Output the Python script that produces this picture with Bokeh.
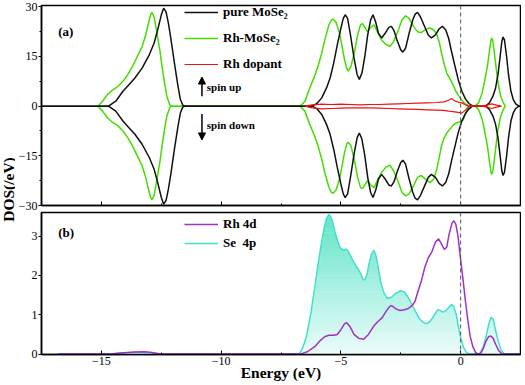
import numpy as np
from bokeh.plotting import figure
from bokeh.models import (Range1d, FixedTicker, Legend, LegendItem, Label, Arrow,
                          NormalHead, Span)
from bokeh.layouts import column, row
from bokeh.embed import file_html
from bokeh.resources import INLINE

FONT = "Liberation Serif"

# ---------------- panel (a) data: total DOS (spin up; spin down plotted negative) ----
e_pure = [-17.5, -14.7, -14.4, -14.1, -13.85, -13.6, -13.3, -13.0, -12.8, -12.65, -12.5, -12.4,
          -12.3, -12.2, -12.1, -11.95, -11.8, -11.7, -11.6, -11.5,
          -6.2, -6.0, -5.8, -5.6, -5.45, -5.3, -5.15, -5.0, -4.9, -4.82, -4.72, -4.6, -4.45,
          -4.32, -4.23, -4.12, -4.0, -3.88, -3.76, -3.66, -3.55, -3.43, -3.3, -3.15, -3.0,
          -2.89, -2.78, -2.65, -2.5, -2.41, -2.3, -2.15, -2.0, -1.9, -1.8, -1.68, -1.5, -1.35,
          -1.22, -1.05, -0.9, -0.76, -0.62, -0.5, -0.38, -0.25, -0.1, 0.05, 0.2, 0.35, 0.5,
          1.05, 1.2, 1.35, 1.46, 1.56, 1.65, 1.72, 1.77, 1.83, 1.92, 2.0, 2.1, 2.2, 2.3, 2.43, 2.5]
dos_pure = [0, 0, 1.5, 4.5, 6.5, 8.5, 11.5, 15.5, 19, 23, 27.5, 29.6,
            28.5, 25, 20.5, 13, 6, 2, 0.3, 0,
            0, 0.8, 2.5, 5.5, 8.5, 13, 18.5, 23.5, 26.5, 27.6, 26.5, 21.5, 14.5,
            9.5, 8.1, 10, 15, 21.5, 26, 27.6, 25.5, 22, 20.6, 22, 23.8,
            24.1, 22.8, 19.8, 17, 16.3, 17.5, 22, 26, 27.8, 28.3, 27, 24, 21.5,
            20.6, 21.5, 23.3, 24.1, 23, 20.5, 16.5, 12.5, 8, 4.5, 2.2, 0.8, 0,
            0, 1, 3, 5.5, 9.5, 15, 19.5, 20.9, 20, 15, 9.5, 4.5, 2, 0.7, 0, 0]

e_rh = [-15.15, -14.95, -14.75, -14.55, -14.33, -14.1, -13.9, -13.7, -13.5, -13.3, -13.15,
        -13.02, -12.95, -12.89, -12.8, -12.68, -12.55, -12.47, -12.35, -12.27, -12.15, -12.1,
        -6.7, -6.5, -6.3, -6.1, -5.95, -5.8, -5.67, -5.5, -5.4, -5.33, -5.2, -5.06, -4.95,
        -4.85, -4.75, -4.69, -4.58, -4.44, -4.3, -4.18, -4.1, -3.98, -3.89, -3.75, -3.62,
        -3.48, -3.3, -3.13, -2.95, -2.8, -2.6, -2.45, -2.3, -2.15, -1.97, -1.8, -1.65, -1.45,
        -1.28, -1.12, -1.0, -0.88, -0.8, -0.68, -0.58, -0.45, -0.32, -0.2, -0.05, 0.1, 0.25,
        0.37, 0.6, 0.75, 0.9, 1.0, 1.12, 1.2, 1.27, 1.3, 1.35, 1.46, 1.55, 1.67, 1.78, 1.87]
dos_rh_up = [0, 1.5, 3.5, 4.8, 5.8, 7.5, 9.5, 12, 15, 18, 21.5,
             25.5, 27.5, 28.3, 27, 22.1, 16.5, 12.1, 6.5, 3.1, 0.5, 0,
             0, 1.5, 5.5, 9, 12.1, 16, 20.1, 24.5, 26, 26.3, 25.3, 22.1, 18,
             14.1, 11.3, 10.6, 12, 16.1, 21.5, 24.6, 24.9, 23.6, 22.5, 23.8, 24.6,
             22.5, 20, 18.7, 18.1, 19.5, 23, 26, 27.3, 26.5, 24.1, 22.5, 22.2, 23.2,
             23.6, 23, 21.8, 19, 16.1, 12.5, 10, 8.3, 6.5, 4.5, 2.8, 1.3, 0.5,
             0, 0, 1, 4, 7.5, 12.1, 16.5, 20, 20.6, 19.5, 13, 7.5, 3.1, 1, 0]
dos_rh_dn = [0, 1.5, 3.5, 4.8, 5.8, 7.5, 9.5, 12, 15, 18, 21.5,
             25.5, 27.5, 28.3, 27, 22.1, 16.5, 12.1, 6.5, 3.1, 0.5, 0,
             0, 1.5, 5.5, 9, 12.1, 16, 20.1, 24.5, 26, 26.3, 25.3, 22.1, 18,
             14.1, 11.3, 10.9, 12, 16.1, 21.5, 24.6, 24.9, 23.6, 22.5, 23.8, 24.6,
             22.5, 20, 18.5, 17.8, 19.5, 23, 26, 27.1, 26.5, 24.1, 21.5, 20.9, 22.2,
             23.1, 22, 19.1, 15, 12, 9.5, 8.1, 7.0, 5.8, 5.1, 4.8, 4.2, 1.5,
             0, 0, 1, 4, 7.5, 12.1, 16.5, 20, 20.6, 19.5, 13, 7.5, 3.1, 1, 0]

e_dop = [-6.5, -6.2, -5.8, -5.4, -5.0, -4.6, -4.2, -3.8, -3.4, -3.0, -2.6, -2.2, -1.8, -1.4,
         -1.0, -0.7, -0.5, -0.38, -0.25, -0.1, 0.05, 0.2, 0.35, 0.9, 1.1, 1.3, 1.5, 1.7]
dos_dop_up = [0, 0.4, 0.6, 0.5, 0.6, 0.5, 0.4, 0.5, 0.5, 0.6, 0.7, 0.8, 0.9, 1.0,
              1.1, 1.3, 1.8, 2.3, 1.6, 1.2, 1.0, 0.4, 0, 0, 0.3, 0.7, 0.3, 0]
dos_dop_dn = [0, 0.5, 0.8, 0.7, 0.6, 0.5, 0.5, 0.5, 0.6, 0.7, 0.8, 0.9, 1.0, 1.1,
              1.2, 1.3, 1.5, 1.6, 1.7, 1.9, 2.1, 1.2, 0, 0, 0.3, 0.7, 0.3, 0]

# ---------------- panel (b) data: PDOS ----------------
e_se = [-16.8, -14.6, -14.2, -13.5, -13.0, -12.6, -12.4, -6.75, -6.6, -6.44, -6.25, -6.09,
        -5.95, -5.82, -5.7, -5.6, -5.5, -5.42, -5.34, -5.22, -5.13, -5.02, -4.9, -4.78,
        -4.68, -4.52, -4.35, -4.2, -4.07, -4.0, -3.92, -3.83, -3.72, -3.62, -3.53, -3.44,
        -3.33, -3.2, -3.07, -2.9, -2.7, -2.5, -2.35, -2.2, -2.05, -1.88, -1.72, -1.57,
        -1.42, -1.28, -1.12, -0.97, -0.88, -0.75, -0.62, -0.48, -0.38, -0.28, -0.18, -0.08,
        0.02, 0.12, 0.22, 0.35, 0.8, 0.95, 1.06, 1.18, 1.28, 1.36, 1.46, 1.57, 1.68, 1.82, 2.5]
dos_se = [0, 0, 0.03, 0.05, 0.04, 0.01, 0, 0, 0.15, 0.44, 1.05, 1.70,
          2.3, 2.79, 3.2, 3.45, 3.55, 3.5, 3.35, 3.05, 2.87, 2.7, 2.64, 2.67,
          2.6, 2.41, 2.22, 2.08, 1.9, 1.88, 2.0, 2.28, 2.55, 2.64, 2.5, 2.2,
          1.82, 1.55, 1.42, 1.44, 1.55, 1.61, 1.58, 1.45, 1.28, 1.08, 0.9, 0.81,
          0.77, 0.83, 0.97, 1.12, 1.12, 1.07, 1.1, 1.2, 1.26, 1.2, 1.0, 0.65,
          0.38, 0.17, 0.06, 0, 0, 0.2, 0.44, 0.78, 0.94, 0.88, 0.6, 0.33, 0.12, 0, 0]

e_rhd = [-16.8, -14.6, -14.2, -13.6, -13.2, -12.9, -12.6, -12.5, -6.7, -6.4, -6.09, -5.85,
         -5.68, -5.5, -5.3, -5.15, -5.0, -4.85, -4.76, -4.62, -4.45, -4.25, -4.05, -3.85,
         -3.62, -3.45, -3.28, -3.1, -2.95, -2.87, -2.7, -2.53, -2.35, -2.18, -2.0, -1.9,
         -1.78, -1.63, -1.5, -1.35, -1.2, -1.05, -0.92, -0.8, -0.68, -0.58, -0.48, -0.36,
         -0.28, -0.2, -0.11, -0.02, 0.09, 0.2, 0.3, 0.4, 0.51, 0.62, 0.71, 0.85, 0.95,
         1.05, 1.16, 1.26, 1.36, 1.46, 1.58, 1.73, 2.5]
dos_rhd = [0, 0, 0.03, 0.055, 0.06, 0.04, 0.01, 0, 0, 0.06, 0.19, 0.35,
           0.44, 0.48, 0.48, 0.5, 0.62, 0.77, 0.8, 0.7, 0.5, 0.4, 0.38, 0.5,
           0.72, 0.83, 0.92, 1.1, 1.22, 1.23, 1.15, 1.11, 1.13, 1.16, 1.25, 1.35,
           1.6, 1.88, 2.2, 2.45, 2.6, 2.85, 2.93, 2.8, 2.66, 2.72, 3.05, 3.33,
           3.39, 3.3, 3.0, 2.5, 1.95, 1.35, 0.86, 0.45, 0.19, 0.05, 0, 0.03, 0.15,
           0.32, 0.44, 0.46, 0.4, 0.25, 0.1, 0, 0]

x_ticks = [-15, -10, -5, 0]
x_minor = [-17.5, -12.5, -7.5, -2.5, 2.5]
ya_ticks = [-30, -15, 0, 15, 30]
ya_minor = [-22.5, -7.5, 7.5, 22.5]
yb_ticks = [0, 1, 2, 3]

C_BLACK = "#111111"
C_GREEN = "#44DD00"
C_RED = "#EE1111"
C_PURPLE = "#A030C8"
C_CYAN = "#40E0CC"

x_range = Range1d(-17.5, 2.5)
W_MAIN = 506
LEFT = 20
H_A = 211
H_B = 172
H_TOTAL = H_A + H_B


def style(p):
    p.background_fill_color = "white"
    p.border_fill_color = "white"
    p.outline_line_color = "black"
    p.outline_line_width = 1.5
    p.outline_line_alpha = 1
    p.xgrid.visible = False
    p.ygrid.visible = False
    for ax in p.axis:
        ax.axis_line_color = "black"
        ax.axis_line_width = 1.5
        ax.major_tick_line_color = "black"
        ax.minor_tick_line_color = "black"
        ax.major_tick_line_width = 1
        ax.minor_tick_line_width = 1
        ax.major_label_text_font = FONT
        ax.major_label_text_font_size = "12px"
        ax.major_label_text_color = "black"
        ax.axis_label_text_font = FONT
        ax.axis_label_text_font_style = "bold"
        ax.axis_label_text_font_size = "15.5px"
        ax.axis_label_text_color = "black"
    for ax in p.xaxis:
        ax.major_tick_in = 4
        ax.major_tick_out = 0
        ax.minor_tick_in = 2
        ax.minor_tick_out = 0
        ax.major_label_standoff = 2
    for ax in p.yaxis:
        ax.major_tick_in = 0
        ax.major_tick_out = 3
        ax.minor_tick_in = 0
        ax.minor_tick_out = 2
        ax.major_label_standoff = 1


# ---------------- y-axis title strip ----------------
pl = figure(width=15, height=H_TOTAL, x_range=Range1d(0, 15), y_range=Range1d(0, H_TOTAL),
            output_backend="svg", toolbar_location=None, min_border=0,
            x_axis_type=None, y_axis_type=None)
pl.outline_line_color = None
pl.grid.visible = False
pl.background_fill_color = "white"
pl.border_fill_color = "white"
pl.add_layout(Label(x=7.5, y=H_TOTAL - 189, text="DOS(/eV)", angle=np.pi / 2,
                    text_font=FONT, text_font_style="bold", text_font_size="15.5px",
                    text_baseline="middle", text_align="center", text_color="black"))

# ---------------- panel (a) ----------------
pa = figure(width=W_MAIN, height=H_A, x_range=x_range, y_range=Range1d(-30, 30.4),
            output_backend="svg", toolbar_location=None,
            min_border_left=LEFT, min_border_right=1, min_border_top=5, min_border_bottom=6)
style(pa)
pa.xaxis.ticker = FixedTicker(ticks=x_ticks, minor_ticks=x_minor)
pa.xaxis.major_label_overrides = {t: "" for t in x_ticks}
pa.xaxis.major_label_standoff = 0
pa.yaxis.ticker = FixedTicker(ticks=ya_ticks, minor_ticks=ya_minor)

r_rh = pa.line(e_rh, dos_rh_up, line_color=C_GREEN, line_width=1.5)
pa.line(e_rh, [-v for v in dos_rh_dn], line_color=C_GREEN, line_width=1.5)
r_pure = pa.line(e_pure, dos_pure, line_color=C_BLACK, line_width=1.5)
pa.line(e_pure, [-v for v in dos_pure], line_color=C_BLACK, line_width=1.5)
r_dop = pa.line(e_dop, dos_dop_up, line_color=C_RED, line_width=1.2)
pa.line(e_dop, [-v for v in dos_dop_dn], line_color=C_RED, line_width=1.2)

pa.add_layout(Span(location=0, dimension="height", line_color="#555555",
                   line_dash="4 3", line_width=1))

leg_a = Legend(items=[LegendItem(label="pure MoSe₂", renderers=[r_pure]),
                      LegendItem(label="Rh-MoSe₂", renderers=[r_rh]),
                      LegendItem(label="Rh dopant", renderers=[r_dop])],
               location=(143, 132), orientation="vertical",
               border_line_color=None, background_fill_alpha=0,
               padding=0, margin=0, spacing=8, label_height=18, glyph_height=18,
               glyph_width=34, label_standoff=5,
               label_text_font=FONT, label_text_font_style="bold",
               label_text_font_size="13px", label_text_color="black")
pa.add_layout(leg_a)

pa.add_layout(Arrow(end=NormalHead(size=7, fill_color="black", line_color="black"),
                    x_start=-10.8, y_start=3, x_end=-10.8, y_end=8.8,
                    line_width=1.5, line_color="black"))
pa.add_layout(Arrow(end=NormalHead(size=7, fill_color="black", line_color="black"),
                    x_start=-10.8, y_start=-2.4, x_end=-10.8, y_end=-10.2,
                    line_width=1.5, line_color="black"))
for txt, yy in (("spin up", 5.7), ("spin down", -5.7)):
    pa.add_layout(Label(x=-10.6, y=yy, text=txt, text_font=FONT, text_font_style="bold",
                        text_font_size="11px", text_baseline="middle", text_align="left",
                        text_color="black"))
pa.add_layout(Label(x=-16.8, y=22.5, text="(a)", text_font=FONT, text_font_style="bold",
                    text_font_size="13px", text_baseline="middle", text_align="left",
                    text_color="black"))

# ---------------- panel (b) ----------------
pb = figure(width=W_MAIN, height=H_B, x_range=x_range, y_range=Range1d(-0.01, 3.6),
            output_backend="svg", toolbar_location=None,
            min_border_left=LEFT, min_border_right=1, min_border_top=1, min_border_bottom=10)
style(pb)
pb.xaxis.ticker = FixedTicker(ticks=x_ticks, minor_ticks=x_minor)
pb.yaxis.ticker = FixedTicker(ticks=yb_ticks, minor_ticks=[])
pb.xaxis.axis_label = "Energy (eV)"
pb.xaxis.axis_label_standoff = -4

# gradient fill under Se 4p, built as horizontal colour bands
se = np.array(dos_se)
levels = np.linspace(0, 3.6, 37)
top_rgb = np.array([95, 228, 200])
bot_rgb = np.array([236, 252, 250])
for lo, hi in zip(levels[:-1], levels[1:]):
    t = (lo + hi) / 2 / 3.6
    rgb = (bot_rgb + (top_rgb - bot_rgb) * t).astype(int)
    col = "#%02x%02x%02x" % tuple(rgb)
    lo2 = max(lo - 0.01, 0)
    pb.varea(x=e_se, y1=np.minimum(se, lo2), y2=np.minimum(se, hi), fill_color=col)

r_se = pb.line(e_se, dos_se, line_color=C_CYAN, line_width=1.5)
r_rhd = pb.line(e_rhd, dos_rhd, line_color=C_PURPLE, line_width=1.5)
pb.add_layout(Span(location=0, dimension="height", line_color="#555555",
                   line_dash="4 3", line_width=1))

leg_b = Legend(items=[LegendItem(label="Rh 4d", renderers=[r_rhd]),
                      LegendItem(label="Se  4p", renderers=[r_se])],
               location=(143, 103), orientation="vertical",
               border_line_color=None, background_fill_alpha=0,
               padding=0, margin=0, spacing=3, label_height=16, glyph_height=16,
               glyph_width=34, label_standoff=5,
               label_text_font=FONT, label_text_font_style="bold",
               label_text_font_size="13px", label_text_color="black")
pb.add_layout(leg_b)
pb.add_layout(Label(x=-16.8, y=3.09, text="(b)", text_font=FONT, text_font_style="bold",
                    text_font_size="13px", text_baseline="middle", text_align="left",
                    text_color="black"))

layout = row(pl, column(pa, pb, spacing=0), spacing=0)
open("out.html", "w").write(file_html(layout, INLINE))
